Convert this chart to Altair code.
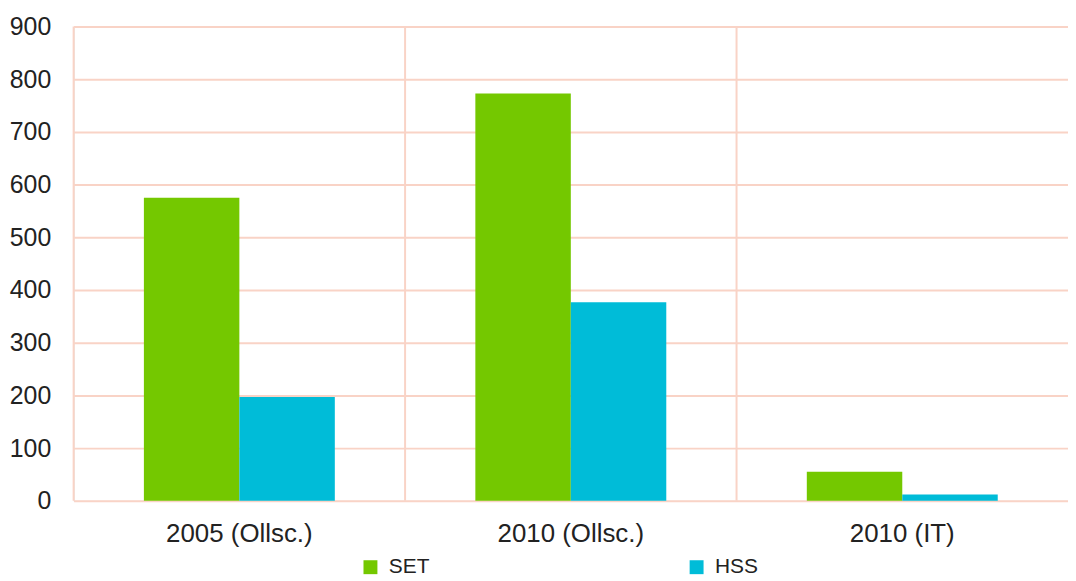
import altair as alt
import pandas as pd

categories = ["2005 (Ollsc.)", "2010 (Ollsc.)", "2010 (IT)"]
series = ["SET", "HSS"]
set_vals = [575, 773, 55]
hss_vals = [197, 377, 12]
y_ticks = [0, 100, 200, 300, 400, 500, 600, 700, 800, 900]

rows = []
for c, s, h in zip(categories, set_vals, hss_vals):
    rows.append({"cat": c, "series": "SET", "value": s})
    rows.append({"cat": c, "series": "HSS", "value": h})
df = pd.DataFrame(rows)
cat_df = pd.DataFrame({"cat": categories})

GRID = "#F9D3C6"
FONT = "Liberation Sans"

xscale = alt.Scale(domain=categories, paddingInner=0, paddingOuter=0)
xaxis = alt.Axis(
    labelAngle=0,
    ticks=False,
    domain=False,
    grid=False,
    labelPadding=20,
    labelFont=FONT,
    labelFontSize=26,
    labelColor="#222222",
)

rules = alt.Chart(cat_df).mark_rule(color=GRID, strokeWidth=2).encode(
    x=alt.X("cat:N", scale=xscale, bandPosition=0, axis=xaxis, title=None)
)

bars = alt.Chart(df).mark_bar().encode(
    x=alt.X("cat:N", scale=xscale, title=None, axis=xaxis),
    xOffset=alt.XOffset(
        "series:N",
        scale=alt.Scale(domain=series, paddingOuter=0.736, paddingInner=0),
    ),
    y=alt.Y(
        "value:Q",
        title=None,
        scale=alt.Scale(domain=[0, 900], nice=False),
        axis=alt.Axis(
            values=y_ticks,
            ticks=False,
            domain=False,
            gridColor=GRID,
            gridWidth=2,
            labelPadding=23,
            labelFont=FONT,
            labelFontSize=25,
            labelColor="#222222",
        ),
    ),
    color=alt.Color(
        "series:N",
        scale=alt.Scale(domain=series, range=["#74C800", "#00BCD8"]),
        legend=alt.Legend(
            title=None,
            orient="none",
            legendX=288,
            legendY=533,
            direction="horizontal",
            symbolType="square",
            symbolSize=196,
            symbolStrokeWidth=0,
            labelFont=FONT,
            labelFontSize=21,
            labelColor="#222222",
            labelOffset=8,
            columnPadding=258,
        ),
    ),
)

chart = (
    alt.layer(rules, bars)
    .properties(width=1000, height=477, padding={"top": 5, "left": 1, "right": 0, "bottom": 0})
    .configure_view(stroke=None)
    .configure(background="white")
)

chart.save("out.html", embed_options={"renderer": "svg", "actions": False})
